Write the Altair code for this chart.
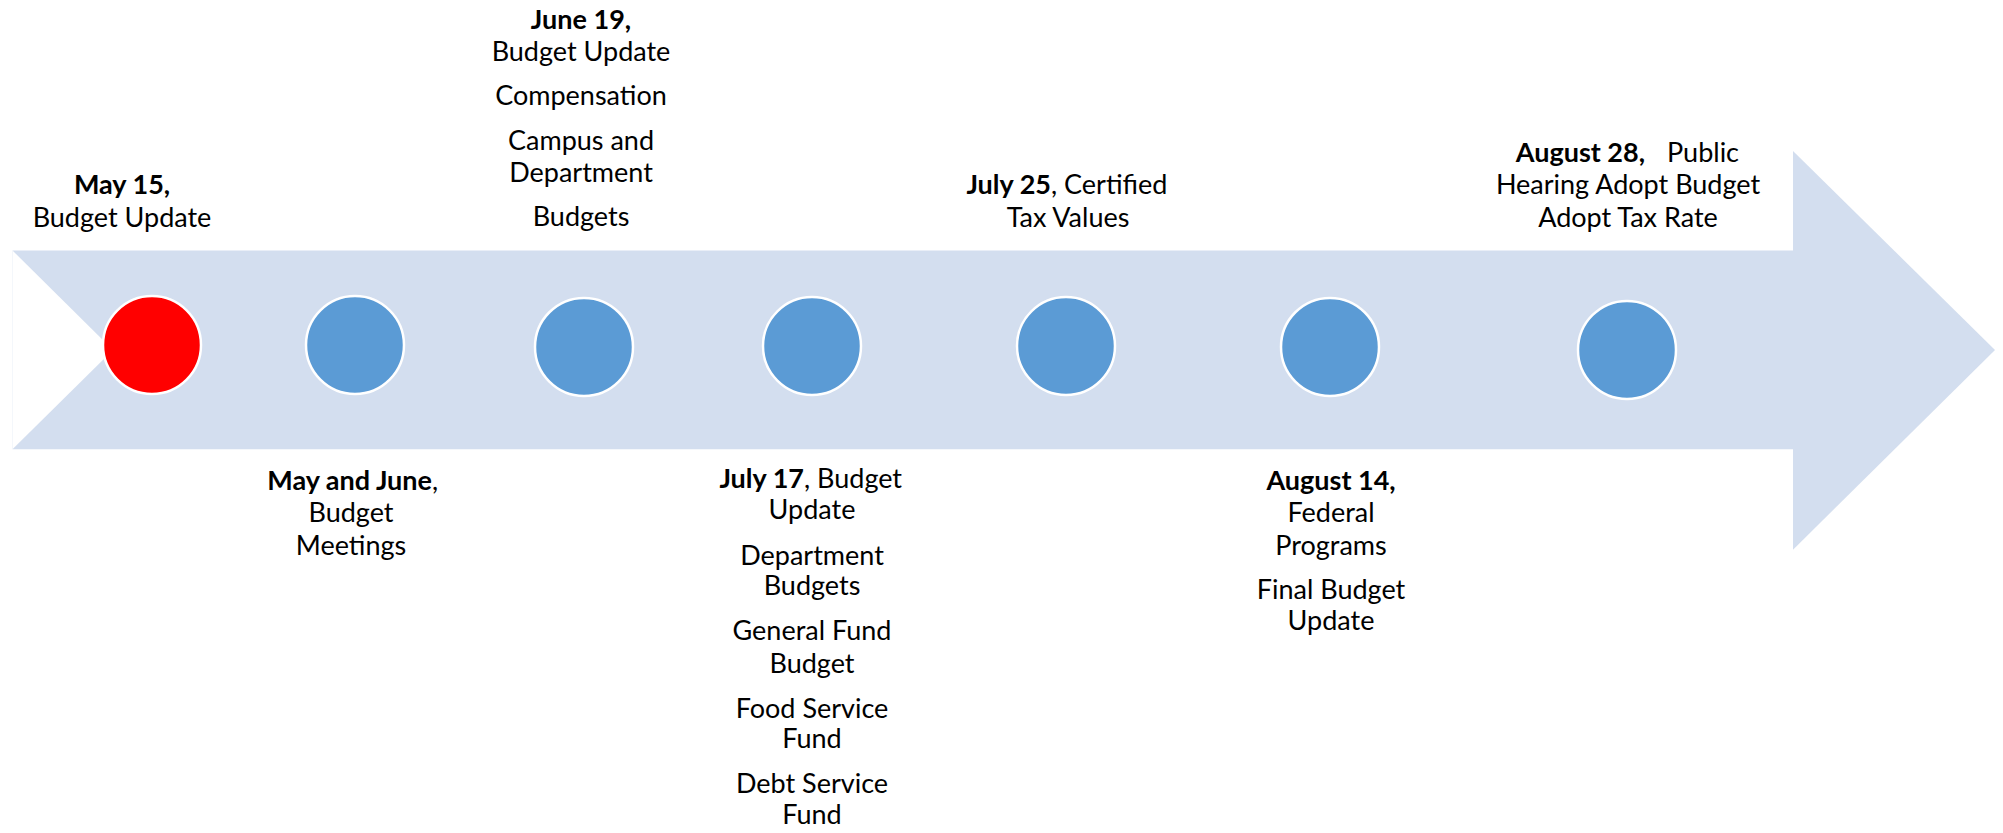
import altair as alt
import pandas as pd

# ---- timeline events (left to right) ----
event_labels = ["May 15", "May and June", "June 19", "July 17", "July 25", "August 14", "August 28"]
event_pos = [152, 355, 584, 812, 1066, 1330, 1627]
event_row = [347, 347, 349, 348, 348, 349, 352]
event_status = ["current", "upcoming", "upcoming", "upcoming", "upcoming", "upcoming", "upcoming"]

# ---- arrow outline: shaft, head and left notch ----
shaft_x = [12.5]
shaft_x2 = [1794]
shaft_top = [252]
shaft_bottom = [452]
head_x = [1793, 1995]
head_top = [152, 352]
head_bottom = [553, 352]
notch_x = [12.5, 113]
notch_top = [252, 352]
notch_bottom = [452, 352]

# ---- text lines ----
line_text = [
    "May 15,", "Budget Update",
    "May and June", ",", "Budget", "Meetings",
    "June 19,", "Budget Update", "Compensation", "Campus and", "Department", "Budgets",
    "July 17", ", Budget", "Update", "Department", "Budgets", "General Fund", "Budget",
    "Food Service", "Fund", "Debt Service", "Fund",
    "July 25", ", Certified", "Tax Values",
    "August 14,", "Federal", "Programs", "Final Budget", "Update",
    "August 28,", "Public", "Hearing Adopt Budget", "Adopt Tax Rate",
]
line_weight = [
    "bold", "normal",
    "bold", "normal", "normal", "normal",
    "bold", "normal", "normal", "normal", "normal", "normal",
    "bold", "normal", "normal", "normal", "normal", "normal", "normal",
    "normal", "normal", "normal", "normal",
    "bold", "normal", "normal",
    "bold", "normal", "normal", "normal", "normal",
    "bold", "normal", "normal", "normal",
]
line_align = [
    "center", "center",
    "right", "left", "center", "center",
    "center", "center", "center", "center", "center", "center",
    "right", "left", "center", "center", "center", "center", "center",
    "center", "center", "center", "center",
    "right", "left", "center",
    "center", "center", "center", "center", "center",
    "right", "left", "center", "center",
]
line_x = [
    122, 122,
    432, 432, 351, 351,
    581, 581, 581, 581, 581, 581,
    804, 804, 812, 812, 812, 812, 812,
    812, 812, 812, 812,
    1051, 1051, 1068,
    1331, 1331, 1331, 1331, 1331,
    1645, 1667, 1628, 1628,
]
line_y = [
    195, 228,
    493, 493, 525, 558,
    29, 61, 106, 151, 183, 227,
    491, 491, 522, 568, 599, 644, 677,
    722, 753, 798, 829,
    195, 195, 228,
    493, 525, 558, 603, 634,
    163, 163, 195, 228,
]

shaft_df = pd.DataFrame({"x": shaft_x, "x2": shaft_x2, "top": shaft_top, "bottom": shaft_bottom})
head_df = pd.DataFrame({"x": head_x, "top": head_top, "bottom": head_bottom})
notch_df = pd.DataFrame({"x": notch_x, "top": notch_top, "bottom": notch_bottom})
events_df = pd.DataFrame({"event": event_labels, "pos": event_pos, "row": event_row,
                          "status": event_status})
lines_df = pd.DataFrame({"text": line_text, "weight": line_weight, "align": line_align,
                         "x": line_x, "y": line_y})

W, H = 1987, 817
xs = alt.Scale(domain=[0, 2003], range=[-8, 1995], zero=False, nice=False)
ys = alt.Scale(domain=[0, 833], range=[-8, 0.994 * 833 - 8], zero=False, nice=False)

ARROW = "#D3DEEF"

shaft = alt.Chart(shaft_df).mark_rect(color=ARROW, opacity=1).encode(
    x=alt.X("x:Q", scale=xs, axis=None),
    x2="x2:Q",
    y=alt.Y("top:Q", scale=ys, axis=None),
    y2="bottom:Q",
)

head = alt.Chart(head_df).mark_area(color=ARROW, opacity=1, interpolate="linear").encode(
    x=alt.X("x:Q", scale=xs, axis=None),
    y=alt.Y("top:Q", scale=ys, axis=None, stack=None),
    y2="bottom:Q",
)

notch = alt.Chart(notch_df).mark_area(color="white", opacity=1, interpolate="linear").encode(
    x=alt.X("x:Q", scale=xs, axis=None),
    y=alt.Y("top:Q", scale=ys, axis=None, stack=None),
    y2="bottom:Q",
)

circles = alt.Chart(events_df).mark_point(shape="circle", filled=True, size=9600, opacity=1,
                                          stroke="white", strokeWidth=2.5).encode(
    x=alt.X("pos:Q", scale=xs, axis=None),
    y=alt.Y("row:Q", scale=ys, axis=None),
    fill=alt.Fill("status:N", scale=alt.Scale(domain=["current", "upcoming"],
                                               range=["#FF0000", "#5B9BD5"]), legend=None),
)

def text_layer(weight, align):
    return alt.Chart(lines_df).transform_filter(
        (alt.datum.weight == weight) & (alt.datum.align == align)
    ).mark_text(
        align=align, baseline="alphabetic", font="Lato", fontSize=27,
        fontWeight=weight, color="black",
    ).encode(
        x=alt.X("x:Q", scale=xs, axis=None),
        y=alt.Y("y:Q", scale=ys, axis=None),
        text="text:N",
    )

texts = [text_layer(w, a) for w in ["bold", "normal"] for a in ["center", "left", "right"]]

chart = alt.layer(shaft, head, notch, circles, *texts).properties(
    width=W, height=H,
    padding=0,
    autosize=alt.AutoSizeParams(type="none"),
    background="white",
).configure_view(stroke=None)

chart.save("out.html", embed_options={"renderer": "svg", "actions": False})
